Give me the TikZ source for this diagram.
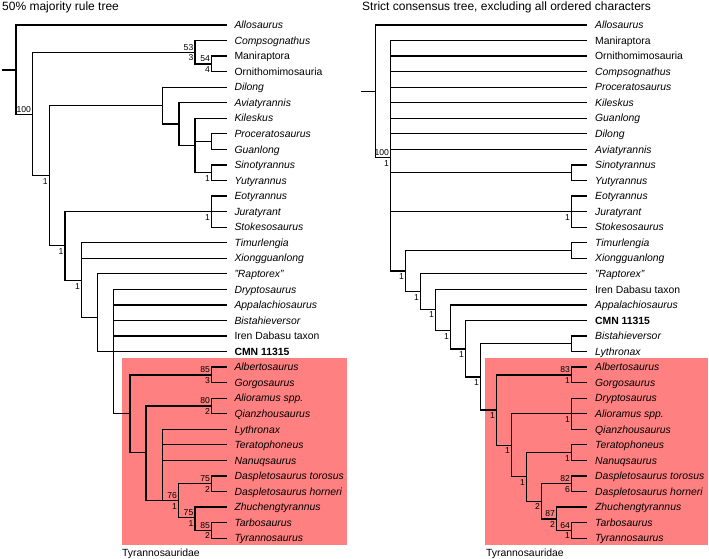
\documentclass[tikz,border=0pt]{standalone}
\usepackage{fontspec}
\setmainfont{Liberation Sans}
\definecolor{cladered}{RGB}{255,128,128}
\newcommand\Lf[5]{\coordinate (#1) at (#2,#3); \node[#4] (#1t) at ({#2+7.6},{#3+3.7}) {#5};}
\newcommand\Ab[2]{\node[sup] (#1a) at ([shift={(-1.5,-2.1)}]#1) {#2};}
\newcommand\Be[2]{\node[sup] (#1b) at ([shift={(-1.5,8.5)}]#1) {#2};}
\begin{document}
\begin{tikzpicture}[x=1pt,y=-1pt,
 edge/.style={line width=1.25pt},
 leaf/.style={anchor=base west,inner sep=0pt,font=\fontsize{10.4}{12}\selectfont},
 leafi/.style={leaf,font=\fontsize{10.4}{12}\selectfont\itshape},
 leafb/.style={leaf,font=\fontsize{10.4}{12}\selectfont\bfseries},
 sup/.style={anchor=base east,inner sep=0pt,font=\fontsize{8.6}{10}\selectfont},
 ttl/.style={anchor=base west,inner sep=0pt,font=\fontsize{12}{14}\selectfont},
 clade/.style={fill=cladered,draw=none}]
\useasboundingbox (0,0) rectangle (709,559);
% clade boxes
\fill[clade] (121.7,358.3) rectangle (347.3,545);
\fill[clade] (485,358.3) rectangle (708.3,545);
% titles
\node[ttl] (t1) at (2,11) {50\% majority rule tree};
\node[ttl] (t2) at (362,11) {Strict consensus tree, excluding all ordered characters};
\node[leaf] (c1) at (122,556) {Tyrannosauridae};
\node[leaf] (c2) at (486,556) {Tyrannosauridae};
% ---------- left tree leaves ----------
\Lf{L0}{226.7}{25.00}{leafi}{Allosaurus}
\Lf{L1}{226.7}{40.55}{leafi}{Compsognathus}
\Lf{L2}{226.7}{56.10}{leaf}{Maniraptora}
\Lf{L3}{226.7}{71.65}{leaf}{Ornithomimosauria}
\Lf{L4}{226.7}{87.20}{leafi}{Dilong}
\Lf{L5}{226.7}{102.75}{leafi}{Aviatyrannis}
\Lf{L6}{226.7}{118.30}{leafi}{Kileskus}
\Lf{L7}{226.7}{133.85}{leafi}{Proceratosaurus}
\Lf{L8}{226.7}{149.40}{leafi}{Guanlong}
\Lf{L9}{226.7}{164.95}{leafi}{Sinotyrannus}
\Lf{L10}{226.7}{180.50}{leafi}{Yutyrannus}
\Lf{L11}{226.7}{196.05}{leafi}{Eotyrannus}
\Lf{L12}{226.7}{211.60}{leafi}{Juratyrant}
\Lf{L13}{226.7}{227.15}{leafi}{Stokesosaurus}
\Lf{L14}{226.7}{242.70}{leafi}{Timurlengia}
\Lf{L15}{226.7}{258.25}{leafi}{Xiongguanlong}
\Lf{L16}{226.7}{273.80}{leafi}{"Raptorex"}
\Lf{L17}{226.7}{289.35}{leafi}{Dryptosaurus}
\Lf{L18}{226.7}{304.90}{leafi}{Appalachiosaurus}
\Lf{L19}{226.7}{320.45}{leafi}{Bistahieversor}
\Lf{L20}{226.7}{336.00}{leaf}{Iren Dabasu taxon}
\Lf{L21}{226.7}{351.55}{leafb}{CMN 11315}
\Lf{L22}{226.7}{367.10}{leafi}{Albertosaurus}
\Lf{L23}{226.7}{382.65}{leafi}{Gorgosaurus}
\Lf{L24}{226.7}{398.20}{leafi}{Alioramus spp.}
\Lf{L25}{226.7}{413.75}{leafi}{Qianzhousaurus}
\Lf{L26}{226.7}{429.30}{leafi}{Lythronax}
\Lf{L27}{226.7}{444.85}{leafi}{Teratophoneus}
\Lf{L28}{226.7}{460.40}{leafi}{Nanuqsaurus}
\Lf{L29}{226.7}{475.95}{leafi}{Daspletosaurus torosus}
\Lf{L30}{226.7}{491.50}{leafi}{Daspletosaurus horneri}
\Lf{L31}{226.7}{507.05}{leafi}{Zhuchengtyrannus}
\Lf{L32}{226.7}{522.60}{leafi}{Tarbosaurus}
\Lf{L33}{226.7}{538.15}{leafi}{Tyrannosaurus}
% left internal nodes
\coordinate (lstub) at (1.5,70);
\coordinate (lroot) at (16,70);
\coordinate (A1) at (32.7,114.5);
\coordinate (A2) at (195,52.3);
\coordinate (A4) at (211.7,63.9);
\coordinate (A3) at (49.3,175.7);
\coordinate (A5) at (162.3,105.7);
\coordinate (A7) at (179,124.1);
\coordinate (A8) at (195,145.5);
\coordinate (A9) at (211.7,141.6);
\coordinate (A10) at (211.7,172.7);
\coordinate (A6) at (65,245.7);
\coordinate (A11) at (211.7,211.6);
\coordinate (A12) at (81.7,280.5);
\coordinate (A13) at (97.7,317.3);
\coordinate (A14) at (113.7,351.55);
\coordinate (A15) at (130,413.3);
\coordinate (A16) at (211.7,374.9);
\coordinate (A17) at (146,452.8);
\coordinate (A18) at (211.7,406);
\coordinate (A19) at (162.3,500.5);
\coordinate (A20) at (178.7,500.5);
\coordinate (A21) at (211.7,483.7);
\coordinate (A22) at (195,517.5);
\coordinate (A23) at (211.7,530.4);
\draw[edge] (lstub) -- (lroot);
\foreach \p/\c in {lroot/L0,lroot/A1,A1/A2,A1/A3,A2/L1,A2/A4,A4/L2,A4/L3,
  A3/A5,A3/A6,A5/L4,A5/A7,A7/L5,A7/A8,A8/L6,A8/A9,A8/A10,A9/L7,A9/L8,A10/L9,A10/L10,
  A6/A11,A6/A12,A11/L11,A11/L12,A11/L13,A12/L14,A12/L15,A12/A13,
  A13/L16,A13/A14,A13/L21,A14/L17,A14/L18,A14/L19,A14/L20,A14/A15,
  A15/A16,A15/A17,A16/L22,A16/L23,A17/A18,A17/A19,A18/L24,A18/L25,
  A19/L26,A19/L27,A19/L28,A19/A20,A20/A21,A20/A22,A21/L29,A21/L30,
  A22/L31,A22/A23,A23/L32,A23/L33}
  \draw[edge] (\p) |- (\c);
\Ab{A1}{100}
\Ab{A2}{53}\Be{A2}{3}
\Ab{A4}{54}\Be{A4}{4}
\Be{A3}{1}
\Be{A10}{1}
\Be{A6}{1}
\Be{A11}{1}
\Be{A12}{1}
\Ab{A16}{85}\Be{A16}{3}
\Ab{A18}{80}\Be{A18}{2}
\Ab{A20}{76}\Be{A20}{1}
\Ab{A21}{75}\Be{A21}{2}
\Ab{A22}{75}\Be{A22}{1}
\Ab{A23}{85}\Be{A23}{2}
% ---------- right tree leaves ----------
\Lf{R0}{587.3}{25.00}{leafi}{Allosaurus}
\Lf{R1}{587.3}{40.55}{leaf}{Maniraptora}
\Lf{R2}{587.3}{56.10}{leaf}{Ornithomimosauria}
\Lf{R3}{587.3}{71.65}{leafi}{Compsognathus}
\Lf{R4}{587.3}{87.20}{leafi}{Proceratosaurus}
\Lf{R5}{587.3}{102.75}{leafi}{Kileskus}
\Lf{R6}{587.3}{118.30}{leafi}{Guanlong}
\Lf{R7}{587.3}{133.85}{leafi}{Dilong}
\Lf{R8}{587.3}{149.40}{leafi}{Aviatyrannis}
\Lf{R9}{587.3}{164.95}{leafi}{Sinotyrannus}
\Lf{R10}{587.3}{180.50}{leafi}{Yutyrannus}
\Lf{R11}{587.3}{196.05}{leafi}{Eotyrannus}
\Lf{R12}{587.3}{211.60}{leafi}{Juratyrant}
\Lf{R13}{587.3}{227.15}{leafi}{Stokesosaurus}
\Lf{R14}{587.3}{242.70}{leafi}{Timurlengia}
\Lf{R15}{587.3}{258.25}{leafi}{Xiongguanlong}
\Lf{R16}{587.3}{273.80}{leafi}{"Raptorex"}
\Lf{R17}{587.3}{289.35}{leaf}{Iren Dabasu taxon}
\Lf{R18}{587.3}{304.90}{leafi}{Appalachiosaurus}
\Lf{R19}{587.3}{320.45}{leafb}{CMN 11315}
\Lf{R20}{587.3}{336.00}{leafi}{Bistahieversor}
\Lf{R21}{587.3}{351.55}{leafi}{Lythronax}
\Lf{R22}{587.3}{367.10}{leafi}{Albertosaurus}
\Lf{R23}{587.3}{382.65}{leafi}{Gorgosaurus}
\Lf{R24}{587.3}{398.20}{leafi}{Dryptosaurus}
\Lf{R25}{587.3}{413.75}{leafi}{Alioramus spp.}
\Lf{R26}{587.3}{429.30}{leafi}{Qianzhousaurus}
\Lf{R27}{587.3}{444.85}{leafi}{Teratophoneus}
\Lf{R28}{587.3}{460.40}{leafi}{Nanuqsaurus}
\Lf{R29}{587.3}{475.95}{leafi}{Daspletosaurus torosus}
\Lf{R30}{587.3}{491.50}{leafi}{Daspletosaurus horneri}
\Lf{R31}{587.3}{507.05}{leafi}{Zhuchengtyrannus}
\Lf{R32}{587.3}{522.60}{leafi}{Tarbosaurus}
\Lf{R33}{587.3}{538.15}{leafi}{Tyrannosaurus}
% right internal nodes
\coordinate (rstub) at (360.5,91.7);
\coordinate (rroot) at (375.7,91.7);
\coordinate (B1) at (390.7,157.5);
\coordinate (B2) at (571.7,172.7);
\coordinate (B3) at (571.7,211.6);
\coordinate (B4) at (405.7,271);
\coordinate (B5) at (571.7,250.5);
\coordinate (B6) at (420.7,291.7);
\coordinate (B7) at (435.7,309.3);
\coordinate (B8) at (450.7,330.7);
\coordinate (B9) at (465.7,349);
\coordinate (B10) at (480.7,377);
\coordinate (B11) at (571.7,343.8);
\coordinate (B12) at (496.7,410);
\coordinate (B13) at (571.7,374.9);
\coordinate (B14) at (511.7,445.2);
\coordinate (B15) at (571.7,413.75);
\coordinate (B16) at (526.7,476.5);
\coordinate (B17) at (571.7,452.6);
\coordinate (B18) at (541.7,501.4);
\coordinate (B19) at (571.7,483.7);
\coordinate (B20) at (556.7,519);
\coordinate (B21) at (571.7,530.4);
\draw[edge] (rstub) -- (rroot);
\foreach \p/\c in {rroot/R0,rroot/B1,B1/R1,B1/R2,B1/R3,B1/R4,B1/R5,B1/R6,B1/R7,B1/R8,
  B1/B2,B1/B3,B1/B4,B2/R9,B2/R10,B3/R11,B3/R12,B3/R13,B4/B5,B4/B6,B5/R14,B5/R15,
  B6/R16,B6/B7,B7/R17,B7/B8,B8/R18,B8/B9,B9/R19,B9/B10,B10/B11,B10/B12,B11/R20,B11/R21,
  B12/B13,B12/B14,B13/R22,B13/R23,B14/B15,B14/B16,B15/R24,B15/R25,B15/R26,
  B16/B17,B16/B18,B17/R27,B17/R28,B18/B19,B18/B20,B19/R29,B19/R30,B20/R31,B20/B21,
  B21/R32,B21/R33}
  \draw[edge] (\p) |- (\c);
\Ab{B1}{100}\Be{B1}{1}
\Be{B3}{1}
\Be{B4}{1}
\Be{B6}{1}
\Be{B7}{1}
\Be{B8}{1}
\Be{B9}{1}
\Be{B10}{1}
\Be{B12}{1}
\Be{B14}{1}
\Be{B15}{1}
\Be{B16}{1}
\Be{B17}{1}
\Be{B18}{2}
\Ab{B13}{83}\Be{B13}{1}
\Ab{B19}{82}\Be{B19}{6}
\Ab{B20}{87}\Be{B20}{2}
\Ab{B21}{64}\Be{B21}{1}
\end{tikzpicture}
\end{document}
